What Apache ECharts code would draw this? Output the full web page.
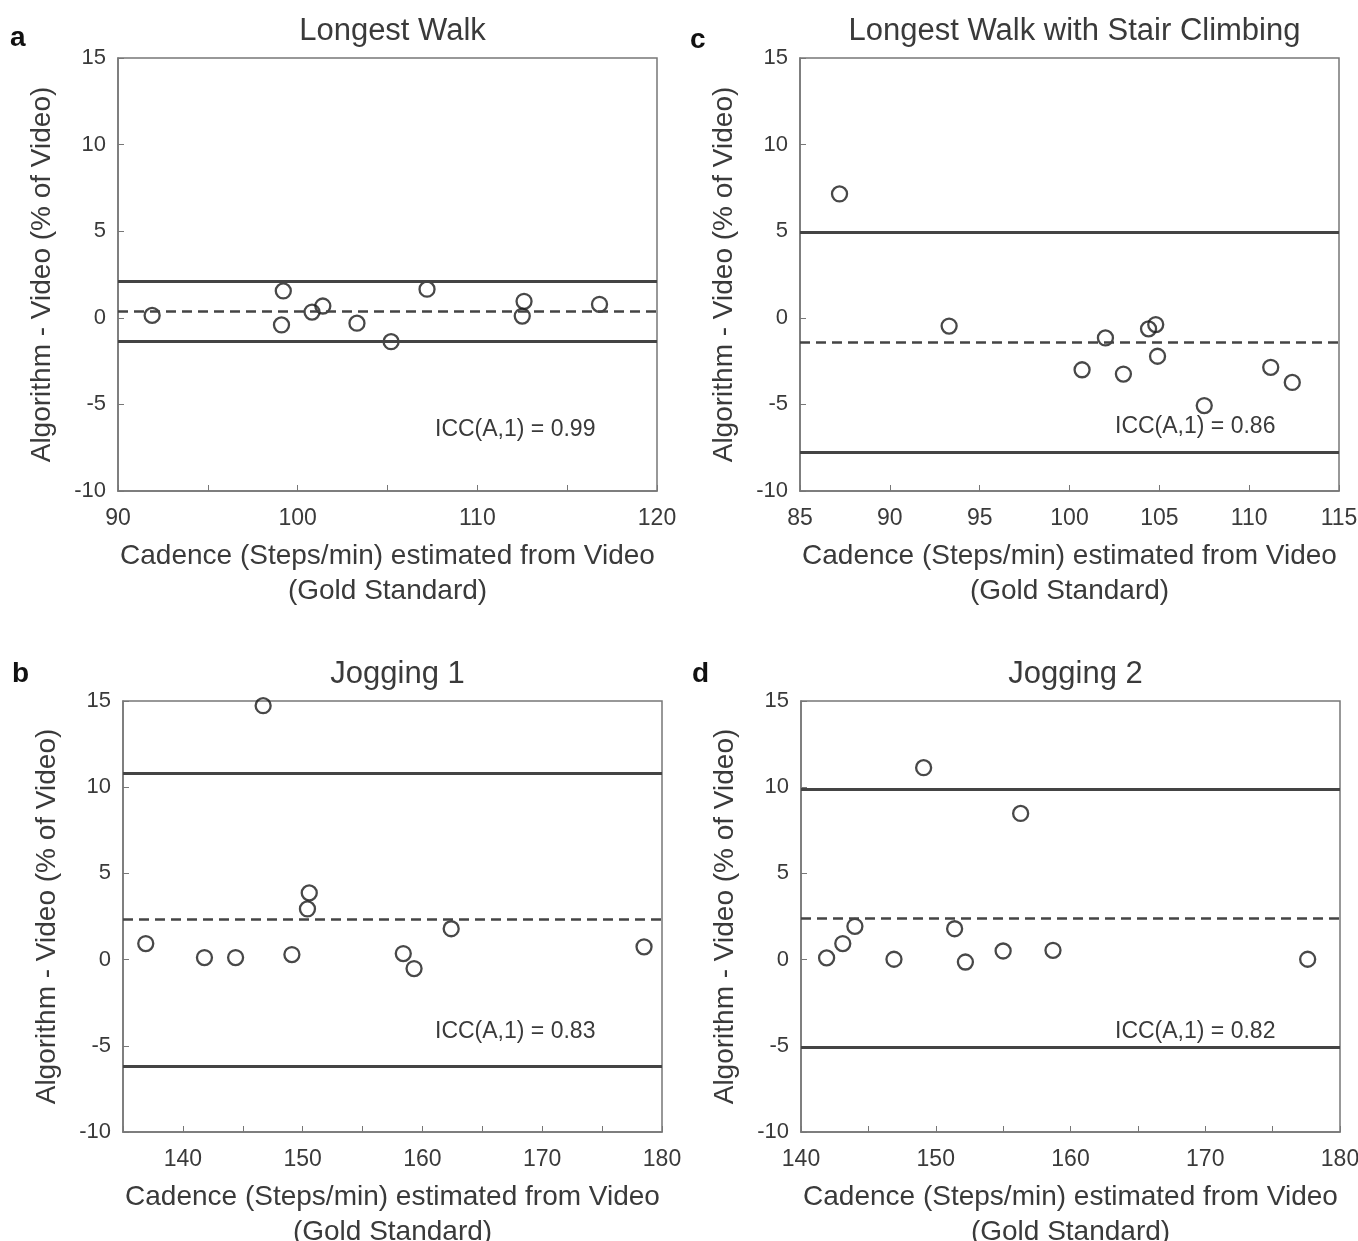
<!DOCTYPE html>
<html>
<head>
<meta charset="utf-8">
<script src="https://cdn.jsdelivr.net/npm/echarts@6/dist/echarts.min.js"></script>
<style>
  html, body { margin: 0; padding: 0; background: #fff; }
  #chart { width: 1358px; height: 1241px; }
</style>
</head>
<body>
<div id="chart"></div>
<script>
// a: Longest Walk
const walkX = [91.9, 99.2, 99.1, 100.8, 101.4, 103.3, 105.2, 107.2, 112.6, 112.5, 116.8];
const walkY = [0.14, 1.55, -0.41, 0.33, 0.68, -0.31, -1.38, 1.65, 0.95, 0.10, 0.78];
const walkLimits = [2.1, 0.35, -1.35]; // upper, mean, lower

// c: Longest Walk with Stair Climbing
const stairX = [87.2, 93.3, 100.7, 102.0, 103.0, 104.4, 104.8, 104.9, 107.5, 111.2, 112.4];
const stairY = [7.15, -0.48, -3.0, -1.16, -3.25, -0.64, -0.39, -2.22, -5.07, -2.86, -3.73];
const stairLimits = [4.95, -1.4, -7.75];

// b: Jogging 1
const jog1X = [136.9, 141.8, 144.4, 146.7, 149.1, 150.4, 150.55, 158.4, 159.3, 162.4, 178.5];
const jog1Y = [0.93, 0.12, 0.12, 14.73, 0.29, 2.94, 3.87, 0.35, -0.52, 1.79, 0.74];
const jog1Limits = [10.8, 2.35, -6.2];

// d: Jogging 2
const jog2X = [141.9, 143.1, 144.0, 146.9, 149.1, 151.4, 152.2, 155.0, 156.3, 158.7, 177.6];
const jog2Y = [0.10, 0.93, 1.93, 0.02, 11.13, 1.79, -0.14, 0.50, 8.48, 0.54, 0.02];
const jog2Limits = [9.9, 2.4, -5.1];

const titles = ["Longest Walk", "Longest Walk with Stair Climbing", "Jogging 1", "Jogging 2"];
const letters = ["a", "c", "b", "d"];
const iccText = ["ICC(A,1) = 0.99", "ICC(A,1) = 0.86", "ICC(A,1) = 0.83", "ICC(A,1) = 0.82"];
const xRanges = [[90, 120], [85, 115], [135, 180], [140, 180]];
const yRange = [-10, 15];

const xs = [walkX, stairX, jog1X, jog2X];
const ys = [walkY, stairY, jog1Y, jog2Y];
const limits = [walkLimits, stairLimits, jog1Limits, jog2Limits];

const FONT = "Liberation Sans, Arial, Helvetica, sans-serif";
const TXT = "#3a3a3a";
const LINE = "#444";

// grid boxes: left, top, width, height
const boxes = [
  [118, 58, 539, 433],
  [800, 58, 539, 433],
  [123, 701, 539, 431],
  [801, 701, 539, 431]
];
const iccPos = [[435, 431], [1115, 428], [435, 1033], [1115, 1033]];
const letterPos = [[10, 40], [690, 42], [12, 676], [692, 676]];

const chart = echarts.init(document.getElementById("chart"));

const grid = boxes.map((b) => ({
  left: b[0], top: b[1], width: b[2], height: b[3],
  outerBoundsMode: "none", containLabel: false,
  show: true, borderColor: "#777", borderWidth: 1.5, backgroundColor: "transparent"
}));

const xAxis = boxes.map((b, i) => ({
  type: "value", gridIndex: i, position: "bottom",
  min: xRanges[i][0], max: xRanges[i][1], interval: 5,
  splitLine: { show: false },
  axisLine: { onZero: false, lineStyle: { color: "#777", width: 1.5 } },
  axisTick: { inside: true, length: 6, lineStyle: { color: "#777" } },
  axisLabel: {
    color: TXT, fontFamily: FONT, fontSize: 23, margin: 16,
    formatter: (v) => (i === 1 || v % 10 === 0 ? String(v) : "")
  },
  name: "Cadence (Steps/min) estimated from Video\n(Gold Standard)",
  nameLocation: "middle", nameGap: 48,
  nameTextStyle: { color: TXT, fontFamily: FONT, fontSize: 28, lineHeight: 35 }
}));

const yAxis = boxes.map((b, i) => ({
  type: "value", gridIndex: i, position: "left",
  min: yRange[0], max: yRange[1], interval: 5,
  splitLine: { show: false },
  axisLine: { onZero: false, lineStyle: { color: "#777", width: 1.5 } },
  axisTick: { inside: true, length: 6, lineStyle: { color: "#777" } },
  axisLabel: { color: TXT, fontFamily: FONT, fontSize: 22, margin: 12 },
  name: "Algorithm - Video (% of Video)",
  nameLocation: "middle", nameGap: 62,
  nameTextStyle: { color: TXT, fontFamily: FONT, fontSize: 28 }
}));

const series = boxes.map((b, i) => ({
  type: "scatter", xAxisIndex: i, yAxisIndex: i,
  data: xs[i].map((x, k) => [x, ys[i][k]]),
  symbol: "circle", symbolSize: 15,
  itemStyle: { color: "rgba(0,0,0,0)", borderColor: "#1a1a1a", borderWidth: 2.3 },
  markLine: {
    silent: true, symbol: ["none", "none"], animation: false,
    label: { show: false },
    data: [
      { yAxis: limits[i][0], lineStyle: { type: "solid", color: LINE, width: 2.8 } },
      { yAxis: limits[i][1], lineStyle: { type: [10, 6], color: LINE, width: 2.6 } },
      { yAxis: limits[i][2], lineStyle: { type: "solid", color: LINE, width: 2.8 } }
    ]
  }
}));

const title = boxes.map((b, i) => ({
  text: titles[i],
  left: b[0] + b[2] / 2, top: b[1] - 47, textAlign: "center",
  textStyle: { color: TXT, fontFamily: FONT, fontSize: 31, fontWeight: "normal" }
}));

const graphic = [];
boxes.forEach((b, i) => {
  graphic.push({
    type: "text", left: iccPos[i][0], top: iccPos[i][1] - 13,
    style: { text: iccText[i], fill: TXT, font: "23px " + FONT }
  });
  graphic.push({
    type: "text", left: letterPos[i][0], top: letterPos[i][1] - 16,
    style: { text: letters[i], fill: "#111", font: "bold 28px " + FONT }
  });
});

chart.setOption({
  animation: false,
  title: title,
  grid: grid,
  xAxis: xAxis,
  yAxis: yAxis,
  series: series,
  graphic: graphic
});
</script>
</body>
</html>
